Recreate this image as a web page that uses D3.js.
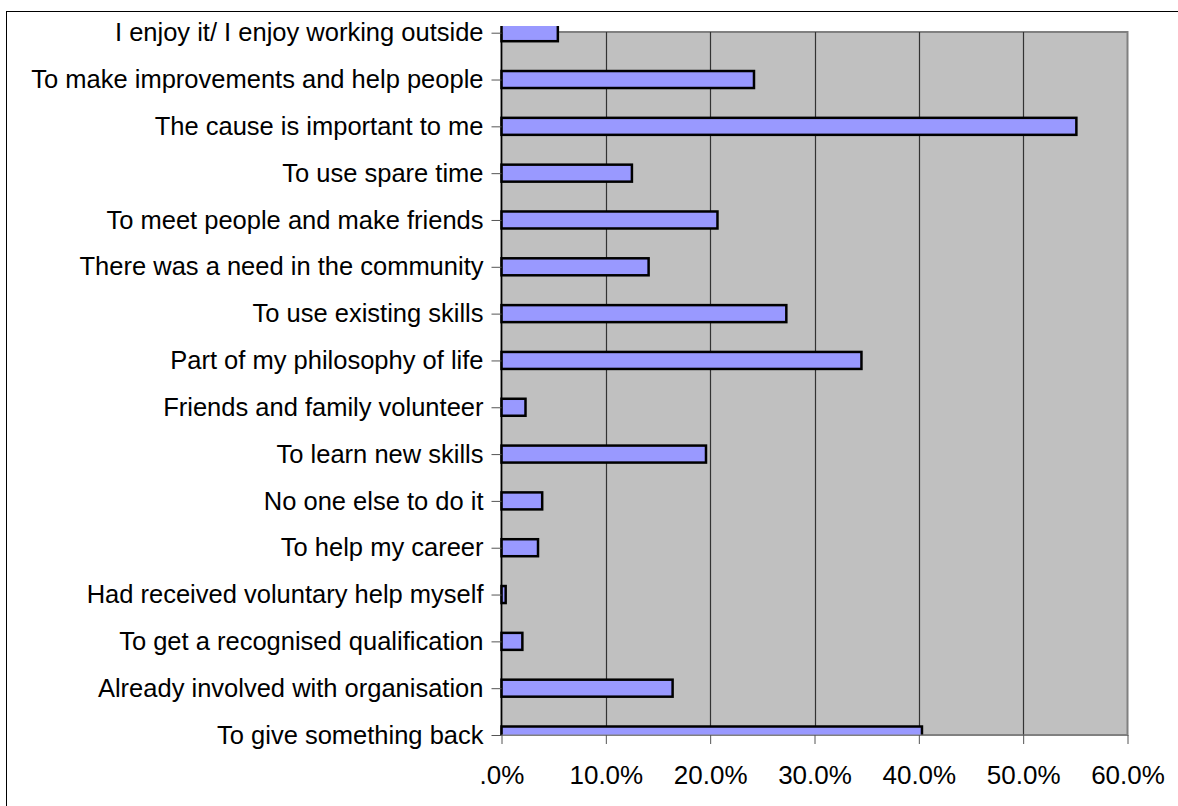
<!DOCTYPE html>
<html>
<head>
<meta charset="utf-8">
<script src="https://cdn.jsdelivr.net/npm/d3@7"></script>
<style>
  html, body { margin: 0; padding: 0; background: #fff; }
  svg { display: block; }
  text { font-family: "Liberation Sans", Arial, sans-serif; }
</style>
</head>
<body>
<svg id="chart" width="1178" height="806"></svg>
<script>
// Reasons given for volunteering (share of respondents)
const reasons = [
  "I enjoy it/ I enjoy working outside",
  "To make improvements and help people",
  "The cause is important to me",
  "To use spare time",
  "To meet people and make friends",
  "There was a need in the community",
  "To use existing skills",
  "Part of my philosophy of life",
  "Friends and family volunteer",
  "To learn new skills",
  "No one else to do it",
  "To help my career",
  "Had received voluntary help myself",
  "To get a recognised qualification",
  "Already involved with organisation",
  "To give something back"
];
const shares = [0.054, 0.242, 0.551, 0.125, 0.207, 0.141, 0.273, 0.345,
                0.023, 0.196, 0.039, 0.035, 0.004, 0.020, 0.164, 0.403];
const xTickValues = [0, 0.1, 0.2, 0.3, 0.4, 0.5, 0.6];
const xTickLabels = [".0%", "10.0%", "20.0%", "30.0%", "40.0%", "50.0%", "60.0%"];

const svg = d3.select("#chart");

// outer chart frame (extends past the right and bottom edges)
svg.append("rect")
  .attr("x", 6.5).attr("y", 11.5)
  .attr("width", 1300).attr("height", 900)
  .attr("fill", "#fff").attr("stroke", "#000").attr("stroke-width", 1);

const plot = { left: 501.5, right: 1127.5, top: 32, bottom: 735 };

const x = d3.scaleLinear().domain([0, 0.6]).range([plot.left, plot.right]);
const y = d3.scalePoint().domain(reasons).range([32.7, 735]).padding(0);

// plot background
svg.append("rect")
  .attr("x", plot.left).attr("y", plot.top)
  .attr("width", plot.right - plot.left).attr("height", plot.bottom - plot.top)
  .attr("fill", "#C0C0C0").attr("stroke", "#808080").attr("stroke-width", 2);

// vertical gridlines
svg.append("g")
  .selectAll("line")
  .data(xTickValues.slice(1, -1))
  .join("line")
  .attr("x1", d => Math.round(x(d)) + 0.5).attr("x2", d => Math.round(x(d)) + 0.5)
  .attr("y1", plot.top).attr("y2", plot.bottom)
  .attr("stroke", "#333").attr("stroke-width", 1.2);

// bars, clipped to the plot band
svg.append("clipPath").attr("id", "barsClip")
  .append("rect")
  .attr("x", plot.left - 3).attr("y", 26)
  .attr("width", plot.right - plot.left + 6).attr("height", plot.bottom - 26);

const barH = 17;
svg.append("g")
  .attr("clip-path", "url(#barsClip)")
  .selectAll("rect")
  .data(reasons)
  .join("rect")
  .attr("x", x(0))
  .attr("y", d => y(d) - barH / 2)
  .attr("width", (d, i) => x(shares[i]) - x(0))
  .attr("height", barH)
  .attr("fill", "#9999FF")
  .attr("stroke", "#000")
  .attr("stroke-width", 2.5);

// category axis
const yAxis = d3.axisLeft(y).tickSize(10).tickPadding(8);
const gy = svg.append("g")
  .attr("transform", `translate(${plot.left},0)`)
  .call(yAxis);
gy.select(".domain").attr("stroke", "#000").attr("stroke-width", 1.5)
  .attr("d", `M0,${plot.top}V${plot.bottom}`);
gy.selectAll(".tick line").attr("stroke", "#555");
gy.selectAll(".tick text")
  .attr("font-size", 25.5).attr("fill", "#000")
  .attr("font-family", "Liberation Sans, Arial, sans-serif");

// value axis
const xAxis = d3.axisBottom(x)
  .tickValues(xTickValues)
  .tickFormat((d, i) => xTickLabels[i])
  .tickSize(9).tickPadding(22);
const gx = svg.append("g")
  .attr("transform", `translate(0,${plot.bottom})`)
  .call(xAxis);
gx.select(".domain").attr("stroke", "#808080").attr("stroke-width", 1)
  .attr("d", `M${plot.left},0H${plot.right}`);
gx.selectAll(".tick line").attr("stroke", "#555");
gx.selectAll(".tick text")
  .attr("font-size", 26).attr("fill", "#000")
  .attr("font-family", "Liberation Sans, Arial, sans-serif");
</script>
</body>
</html>
